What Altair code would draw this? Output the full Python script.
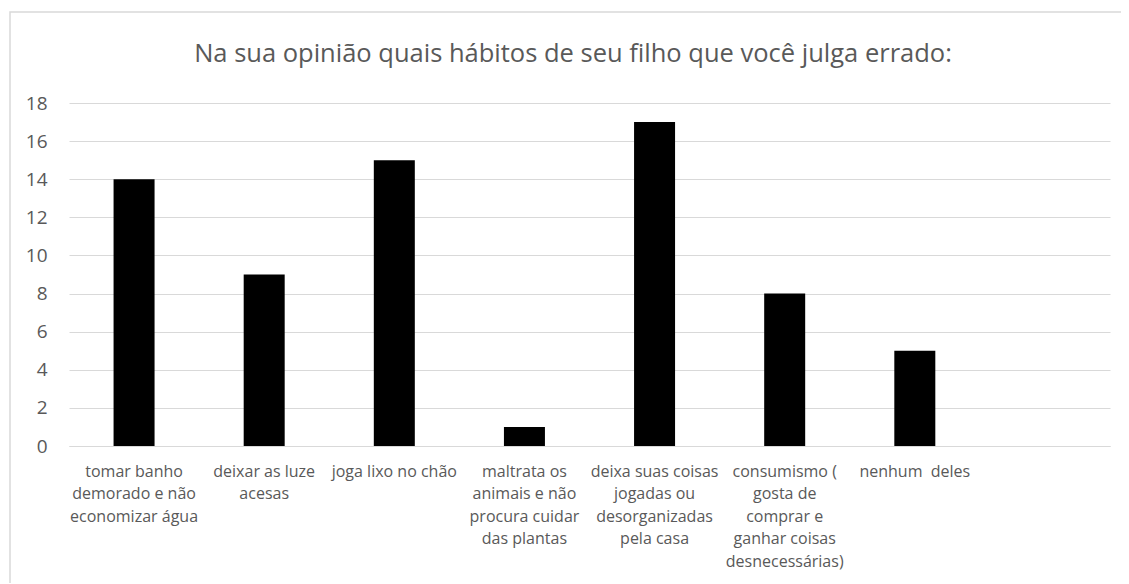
import altair as alt
import pandas as pd

categories = [
    "tomar banho|demorado e não|economizar água",
    "deixar as luze|acesas",
    "joga lixo no chão",
    "maltrata os|animais e não|procura cuidar|das plantas",
    "deixa suas coisas|jogadas ou|desorganizadas|pela casa",
    "consumismo (|gosta de|comprar e|ganhar coisas|desnecessárias)",
    "nenhum\u00a0 deles",
]
values = [14, 9, 15, 1, 17, 8, 5]
domain = categories + [" "]
y_ticks = [0, 2, 4, 6, 8, 10, 12, 14, 16, 18]
title_text = "Na sua opinião quais hábitos de seu filho que você julga errado:"

df = pd.DataFrame({"cat": categories, "val": values})

FONT = "Open Sans"
GRAY = "#595959"
GRID = "#d9d9d9"
W, H = 1041, 343

bars = alt.Chart(df).mark_bar(color="#000000", size=41).encode(
    x=alt.X("cat:N", scale=alt.Scale(domain=domain), sort=domain,
            axis=alt.Axis(title=None, labelAngle=0, labelExpr="split(datum.label, '|')",
                          labelFont=FONT, labelFontSize=16, labelColor=GRAY,
                          labelLineHeight=22.5, labelPadding=17, labelLimit=200,
                          ticks=False, domainColor=GRID, labelBaseline="top")),
    y=alt.Y("val:Q", scale=alt.Scale(domain=[0, 18], nice=False),
            axis=alt.Axis(title=None, values=y_ticks, labelFont=FONT, labelFontSize=19,
                          labelColor=GRAY, labelPadding=22, ticks=False, domain=False,
                          gridColor=GRID, gridWidth=1)),
)

border = alt.Chart(pd.DataFrame({"a": [0]})).mark_rect(
    fill=None, stroke=GRID, strokeWidth=1.5, clip=False
).encode(
    x=alt.value(-59), x2=alt.value(W + 100), y=alt.value(-91), y2=alt.value(H + 300)
)

title = alt.Chart(pd.DataFrame({"t": [title_text]})).mark_text(
    font=FONT, fontSize=25.5, color=GRAY, align="center",
    baseline="middle", clip=False
).encode(text="t:N", x=alt.value(504), y=alt.value(-49))

chart = alt.layer(border, bars, title).properties(
    width=W, height=H,
    background="white",
    autosize=alt.AutoSizeParams(type="none"),
    padding={"left": 61, "top": 95, "right": 11, "bottom": 137},
).configure_view(strokeWidth=0, stroke=None)

chart.save("out.html", embed_options={"renderer": "svg", "actions": False})
